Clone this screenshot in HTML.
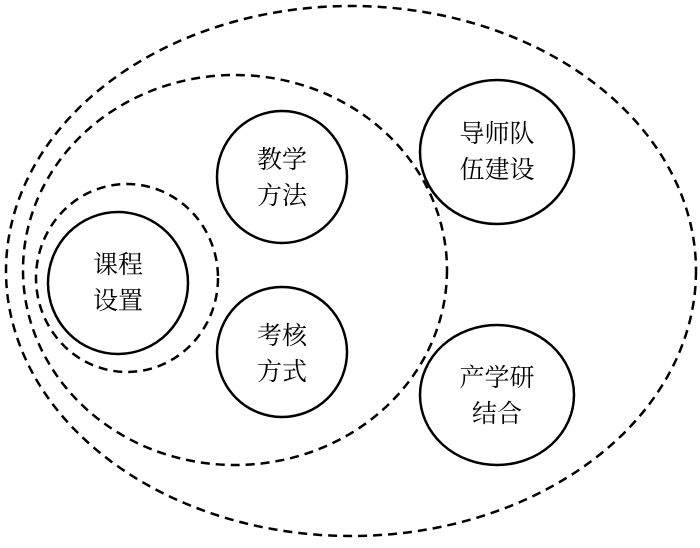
<!DOCTYPE html>
<html><head><meta charset="utf-8"><style>html,body{margin:0;padding:0;background:#fff}</style></head>
<body>
<svg width="700" height="543" viewBox="0 0 700 543" xmlns="http://www.w3.org/2000/svg">
<g fill="none" stroke="#000" stroke-width="2.5" stroke-dasharray="9,6">
<ellipse cx="351" cy="271" rx="345" ry="265"/>
<ellipse cx="235" cy="270" rx="212" ry="195"/>
<ellipse cx="127" cy="278" rx="91" ry="94"/>
</g>
<g fill="#fff" stroke="#000" stroke-width="2.5">
<ellipse cx="118" cy="283" rx="70" ry="71"/>
<ellipse cx="282" cy="177" rx="65" ry="66"/>
<ellipse cx="282" cy="352" rx="65" ry="65"/>
<ellipse cx="497" cy="152" rx="77" ry="72"/>
<ellipse cx="497" cy="395" rx="77" ry="70"/>
</g>
<g font-family="'Liberation Serif','Noto Serif CJK SC',serif" font-size="25" text-anchor="middle" fill="#000">
<text x="118" y="273">课程</text><text x="118" y="309">设置</text>
<text x="282" y="168">教学</text><text x="282" y="204">方法</text>
<text x="282" y="344">考核</text><text x="282" y="380">方式</text>
<text x="497" y="142">导师队</text><text x="497" y="178">伍建设</text>
<text x="497" y="386">产学研</text><text x="497" y="422">结合</text>
</g>
</svg>
</body></html>
